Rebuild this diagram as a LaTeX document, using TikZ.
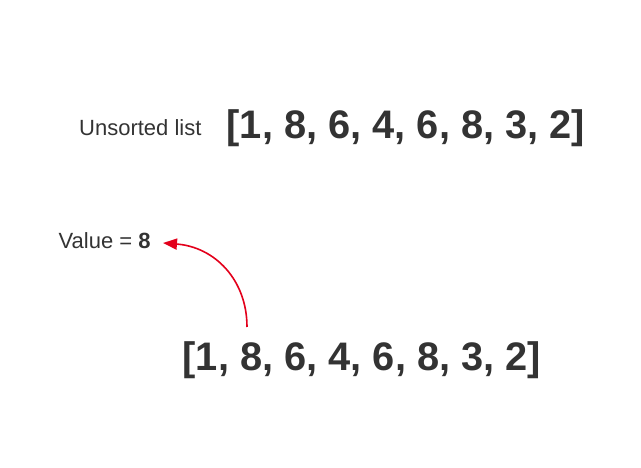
\documentclass[tikz,border=0pt]{standalone}
\usepackage{fontspec}
\setmainfont{Liberation Sans}
\usetikzlibrary{arrows.meta}
\definecolor{txt}{HTML}{333333}
\definecolor{arr}{HTML}{E3001B}
\begin{document}
\begin{tikzpicture}[x=1pt,y=-1pt,
  lbl/.style={inner sep=0pt,text=txt,font=\fontsize{22}{24}\selectfont},
  biglist/.style={inner sep=0pt,text=txt,font=\fontsize{39.8}{46}\selectfont\bfseries},
  redarrow/.style={draw=arr,line width=1.6pt,-{Triangle[length=14pt,width=11pt]}}]
\useasboundingbox (0,0) rectangle (641,468);
\node[lbl,anchor=west] (unsorted) at (79,128) {Unsorted list};
\node[biglist,anchor=west] (list1) at (226.5,128) {[1, 8, 6, 4, 6, 8, 3, 2]};
\node[lbl,anchor=west] (value) at (58.5,241) {Value = \textbf{8}};
\node[biglist,anchor=west] (list2) at (182.5,360) {[1, 8, 6, 4, 6, 8, 3, 2]};
\coordinate (start) at (247,327);
\coordinate (tip) at (163,243);
\draw[redarrow] (start) .. controls (247,280) and (215,247) .. (tip);
\end{tikzpicture}
\end{document}
